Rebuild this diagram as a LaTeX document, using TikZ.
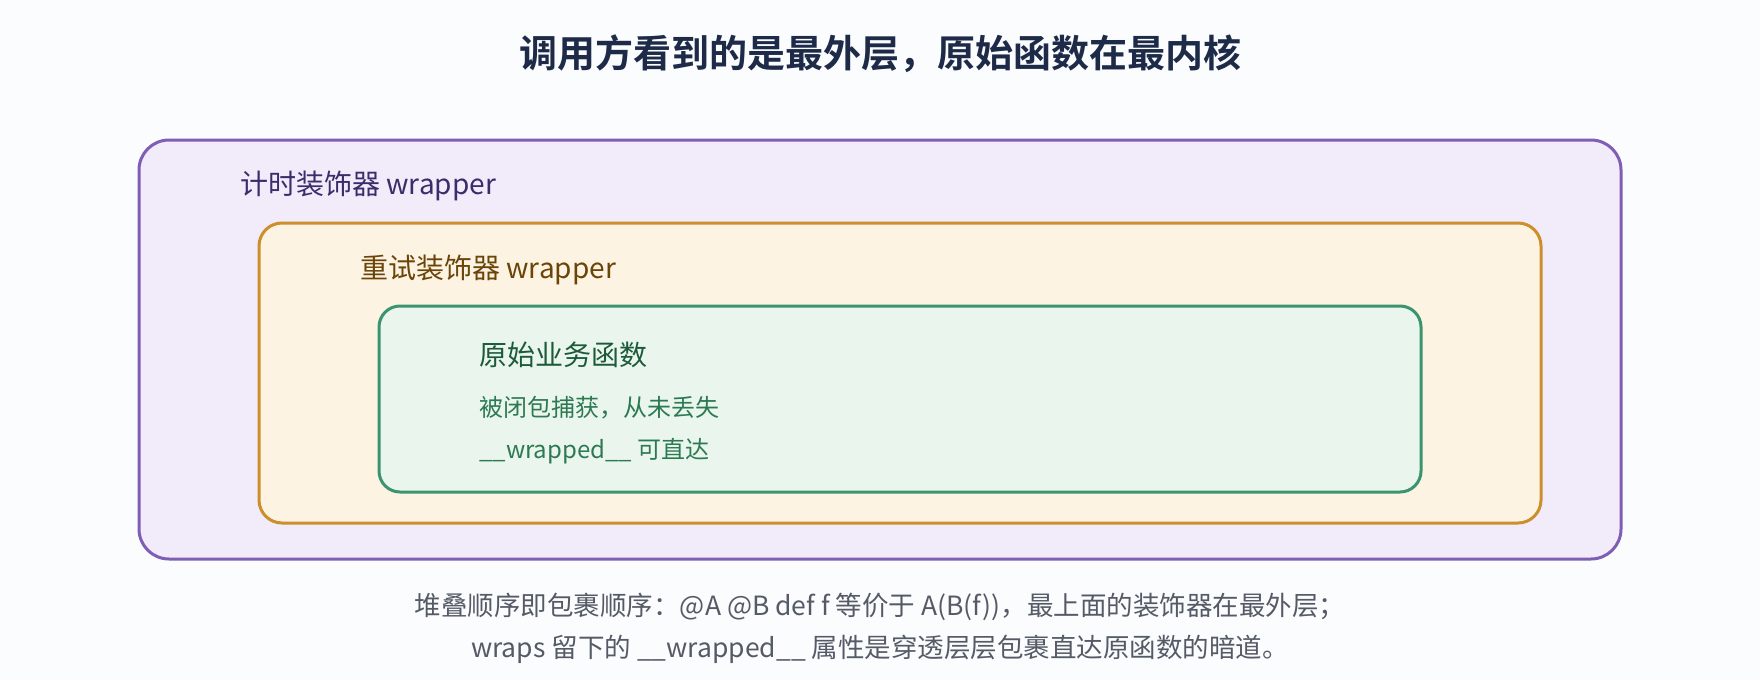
\documentclass[tikz,border=0pt]{standalone}
\usepackage{fontspec}
\setmainfont{Noto Sans CJK SC}[BoldFont={Noto Sans CJK SC Bold}]
\definecolor{bgc}{HTML}{FBFCFE}
\definecolor{titlec}{HTML}{1E2B48}
\definecolor{outerd}{HTML}{7E5FB5}
\definecolor{outerf}{HTML}{F1EBFA}
\definecolor{outert}{HTML}{3D2C6B}
\definecolor{midd}{HTML}{CC8F2B}
\definecolor{midf}{HTML}{FDF3E2}
\definecolor{midt}{HTML}{6B4408}
\definecolor{innd}{HTML}{3B9470}
\definecolor{innf}{HTML}{EAF6ED}
\definecolor{innt}{HTML}{1C5A3A}
\definecolor{innl}{HTML}{2D7A52}
\definecolor{footc}{HTML}{555B66}
\tikzset{
  layer/.style={line width=3pt},
  lbl/.style={anchor=west, inner sep=0pt, font=\fontsize{28}{32}\selectfont},
  sub/.style={anchor=west, inner sep=0pt, font=\fontsize{24}{28}\selectfont, text=innl},
  foot/.style={anchor=center, inner sep=0pt, font=\fontsize{26.5}{30}\selectfont, text=footc},
}
\begin{document}
\begin{tikzpicture}[x=1pt,y=-1pt]
\fill[bgc] (0,0) rectangle (1760,680);
\useasboundingbox (0,0) rectangle (1760,680);
\node[inner sep=0pt, font=\fontsize{38}{42}\selectfont\bfseries, text=titlec] (title) at (880,54) {调用方看到的是最外层，原始函数在最内核};
\draw[layer, draw=outerd, fill=outerf, rounded corners=30pt] (139,140) rectangle (1621,559);
\node[lbl, text=outert] (l1) at (240,186) {计时装饰器 wrapper};
\draw[layer, draw=midd, fill=midf, rounded corners=23pt] (259,223) rectangle (1541,523);
\node[lbl, text=midt] (l2) at (360,270) {重试装饰器 wrapper};
\draw[layer, draw=innd, fill=innf, rounded corners=21pt] (379,306) rectangle (1421,492);
\node[lbl, text=innt] (l3) at (479,355) {原始业务函数};
\node[sub] (s1) at (479,408) {被闭包捕获，从未丢失};
\node[sub] (s2) at (479,451) {\_\_wrapped\_\_ 可直达};
\node[foot] (f1) at (880,607) {堆叠顺序即包裹顺序：@A @B def f 等价于 A(B(f))，最上面的装饰器在最外层；};
\node[foot] (f2) at (880,649) {wraps 留下的 \_\_wrapped\_\_ 属性是穿透层层包裹直达原函数的暗道。};
\end{tikzpicture}
\end{document}
